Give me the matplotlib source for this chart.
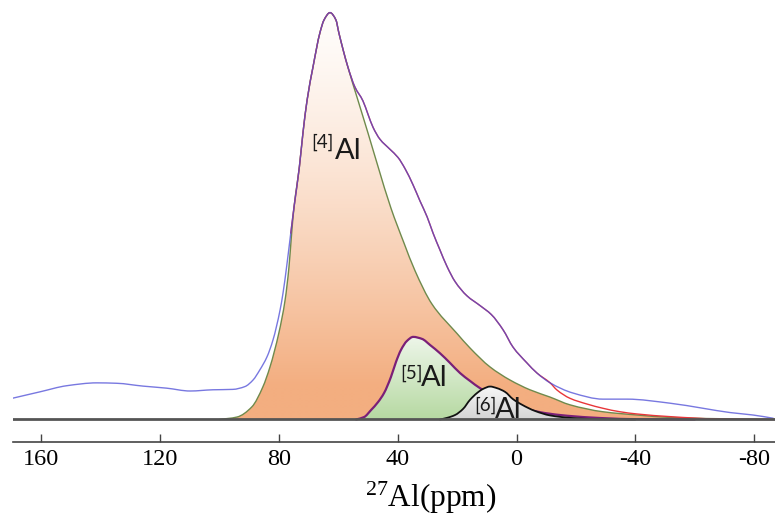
import numpy as np
import matplotlib
matplotlib.use("Agg")
import matplotlib.pyplot as plt
from matplotlib.colors import to_rgba
from matplotlib.path import Path
from matplotlib.patches import PathPatch

plt.rcParams['axes.unicode_minus'] = False
plt.rcParams['mathtext.fontset'] = 'custom'
plt.rcParams['mathtext.rm'] = 'Liberation Serif'
plt.rcParams['mathtext.it'] = 'Liberation Serif:italic'

# ---- data (chemical shift in ppm, intensity in % of max) ----
ppm_exp = [169.8, 160.4, 151.4, 141.3, 134.6, 125.7, 117.8, 109.9, 102.2, 95.5, 91.4, 88.7,
           86.4, 84.0, 82.0, 79.6, 78.6, 77.4, 76.0, 74.9, 73.1, 71.9, 70.5, 68.5, 66.2, 64.8,
           62.8, 60.8, 59.8, 56.8, 54.4, 51.7, 50.0, 48.3, 46.0, 42.6, 39.9, 37.5, 34.8, 32.5,
           30.1, 28.1, 25.8, 23.4, 20.7, 16.7, 12.3, 8.5, 4.5, 1.2, -3.5, -6.9, -11.3, -19.0,
           -29.1, -37.2, -51.7, -62.8, -71.9, -79.6, -86.4]
int_exp = [5.2, 6.8, 8.3, 9.0, 8.9, 8.2, 7.7, 7.0, 7.3, 7.4, 8.1, 9.7,
           12.2, 15.4, 19.5, 26.9, 31.1, 37.5, 45.8, 52.2, 62.1, 70.4, 78.5, 86.7, 95.0, 98.2,
           100, 98.2, 95.0, 86.7, 81.7, 78.3, 75.0, 71.8, 68.9, 66.4, 64.4, 61.6, 57.6, 53.7,
           49.8, 45.8, 41.7, 37.6, 33.9, 30.4, 28.0, 25.8, 22.0, 17.8, 13.9, 11.4, 9.0, 6.5,
           5.0, 5.0, 4.0, 2.75, 1.7, 1.1, 0.3]

ppm_fit = [76.0, 74.9, 73.1, 71.9, 70.5, 68.5,
           66.2, 64.8, 62.8, 60.8, 59.8, 56.8, 54.4, 51.7, 50.0, 48.3, 46.0, 42.6, 39.9, 37.5,
           34.8, 32.5, 30.1, 28.1, 25.8, 23.4, 20.7, 16.7, 12.3, 8.5, 4.5, 1.2, -3.5, -6.9,
           -11.3, -13.6, -18.0, -23.7, -29.1, -34.8, -40.6, -51.7, -68.5, -87]
int_fit = [45.8, 52.2, 62.1, 70.4, 78.5, 86.7,
           95.0, 98.2, 100, 98.2, 95.0, 86.7, 81.7, 78.3, 75.0, 71.8, 68.9, 66.4, 64.4, 61.6,
           57.6, 53.7, 49.8, 45.8, 41.7, 37.6, 33.9, 30.4, 28.0, 25.8, 22.0, 17.8, 13.9, 11.4,
           9.0, 7.25, 5.2, 3.8, 2.75, 1.9, 1.35, 0.7, 0.1, 0]

ppm_al4 = [100, 94.1, 89.1, 85.4, 83.0, 80.0, 77.9, 76.6, 75.7, 74.9, 73.1, 71.9, 70.5, 68.5,
           66.2, 64.8, 62.8, 60.8, 59.8, 56.8, 53.4, 50.0, 46.6, 42.3, 37.9, 34.2, 28.5, 20.0,
           15.7, 8.9, 2.2, -4.5, -11.3, -18.0, -29.1, -40.6, -51.7, -62.8, -87]
int_al4 = [0, 0.6, 3.1, 8.0, 12.9, 21.3, 29.4, 37.5, 45.8, 52.2, 62.1, 70.4, 78.5, 86.7,
           95.0, 98.2, 100, 98.2, 95.0, 86.7, 78.5, 70.4, 62.1, 52.0, 43.4, 36.6, 28.4, 21.1,
           17.6, 12.9, 9.7, 7.3, 5.5, 3.6, 1.9, 1.1, 0.5, 0.25, 0.03]

ppm_al5 = [54.0, 51.3, 49.0, 46.6, 44.6, 42.3, 40.6, 38.9, 36.9, 34.8, 31.8, 29.1, 25.8, 22.4,
           19.0, 15.7, 12.3, 8.2, 3.9, -1.2, -7.9, -14.6, -24.7, -38.2, -60]
int_al5 = [0, 0.6, 2.3, 4.3, 6.5, 10.4, 14.1, 17.1, 19.3, 20.3, 19.8, 18.3, 16.3, 13.9,
           11.4, 9.5, 7.7, 6.0, 4.5, 3.1, 1.8, 1.1, 0.5, 0.1, 0]

ppm_al6 = [25.8, 23.4, 20.7, 18.0, 15.7, 13.3, 11.3, 8.9, 6.6, 3.9, 1.2, -1.9, -6.2, -11.3,
           -18.0, -28.1, -40]
int_al6 = [0, 0.4, 1.1, 2.6, 4.8, 6.5, 7.5, 8.1, 7.7, 6.8, 5.0, 3.6, 2.1, 1.0,
           0.4, 0.05, 0]

xticks = [160, 120, 80, 40, 0, -40, -80]
xtick_labels = ['160', '120', '80', '40', '0', '-40', '-80']

# ---- figure ----
fig = plt.figure(figsize=(7.75, 5.15), dpi=100)
ax = fig.add_axes([12.7 / 775, 73.3 / 515, 1 - 12.7 / 775, 441.7 / 515])

XL = (169.6, -87.0)
YL = (-5.46, 103.1)


def smooth_verts(x, y):
    """Cubic Bezier path through the read points (monotone tangents, no overshoot)."""
    x = np.asarray(x, float)
    y = np.asarray(y, float)
    o = np.argsort(x)
    x, y = x[o], y[o]
    h = np.diff(x)
    d = np.diff(y) / h
    m = np.zeros_like(x)
    m[0], m[-1] = d[0], d[-1]
    for k in range(1, len(x) - 1):
        if d[k - 1] * d[k] <= 0:
            m[k] = 0.0
        else:
            w1 = 2 * h[k] + h[k - 1]
            w2 = h[k] + 2 * h[k - 1]
            m[k] = (w1 + w2) / (w1 / d[k - 1] + w2 / d[k])
    verts = [(x[0], y[0])]
    codes = [Path.MOVETO]
    for k in range(len(x) - 1):
        verts += [(x[k] + h[k] / 3, y[k] + m[k] * h[k] / 3),
                  (x[k + 1] - h[k] / 3, y[k + 1] - m[k + 1] * h[k] / 3),
                  (x[k + 1], y[k + 1])]
        codes += [Path.CURVE4] * 3
    return verts, codes


def curve(x, y, color, lw, z, alpha=1.0):
    v, c = smooth_verts(x, y)
    p = PathPatch(Path(v, c), facecolor='none', edgecolor=color, lw=lw,
                  alpha=alpha, zorder=z, capstyle='round', joinstyle='round')
    ax.add_patch(p)
    return p


def grad_fill(x, y, c_top, c_bot, ytop, yfull, z, gamma=1.0):
    v, c = smooth_verts(x, y)
    v = v + [(max(x), 0), (min(x), 0), (min(x), 0)]
    c = c + [Path.LINETO, Path.LINETO, Path.CLOSEPOLY]
    patch = PathPatch(Path(v, c), facecolor='none', edgecolor='none', zorder=z)
    ax.add_patch(patch)
    n = 300
    ivals = np.linspace(ytop, 0, n)
    frac = np.clip((ytop - ivals) / (ytop - yfull), 0, 1) ** gamma
    frac = frac[:, None]
    ct = np.array(to_rgba(c_top))
    cb = np.array(to_rgba(c_bot))
    arr = (ct * (1 - frac) + cb * frac)[:, None, :]
    im = ax.imshow(arr, extent=[max(x), min(x), 0, ytop], aspect='auto',
                   origin='upper', zorder=z, interpolation='bilinear')
    im.set_clip_path(patch)
    return im


grad_fill(ppm_al4, int_al4, '#fffdfb', '#f3ae80', 100, 8, 1, gamma=1.35)
curve(ppm_al4, int_al4, '#6f8a4c', 1.0, 2)

grad_fill(ppm_al5, int_al5, '#eef6ea', '#b6d9a2', 20.3, 0, 3)
curve(ppm_al5, int_al5, '#7a1f78', 1.6, 4)

grad_fill(ppm_al6, int_al6, '#f7f7f7', '#d5d5d5', 8.1, 0, 5)
curve(ppm_al6, int_al6, '#111111', 1.3, 6)

curve(ppm_fit, int_fit, '#e8363a', 1.0, 7)
curve(ppm_exp, int_exp, '#4b4bd6', 1.0, 8, alpha=0.75)

ax.axhline(0, color='#555555', lw=2.0, zorder=9)

txt_kw = dict(family='Lato', color='#1a1a1a', zorder=10)
ax.text(69.0, 70.2, '[4]', fontsize=13.5, ha='left', va='top', **txt_kw)
ax.text(61.1, 64.0, 'Al', fontsize=21, ha='left', va='baseline', **txt_kw)
ax.text(39.2, 13.5, '[5]', fontsize=13.5, ha='left', va='top', **txt_kw)
ax.text(32.3, 8.2, 'Al', fontsize=21, ha='left', va='baseline', **txt_kw)
ax.text(14.3, 5.6, '[6]', fontsize=13.5, ha='left', va='top', **txt_kw)
ax.text(7.2, 0.3, 'Al', fontsize=21, ha='left', va='baseline', **txt_kw)

ax.set_xlim(*XL)
ax.set_ylim(*YL)
for s in ['top', 'left', 'right']:
    ax.spines[s].set_visible(False)
ax.spines['bottom'].set_color('#444444')
ax.spines['bottom'].set_linewidth(1.2)
ax.set_yticks([])
ax.set_xticks(xticks)
ax.set_xticklabels(xtick_labels, family='Liberation Serif', fontsize=17.5)
ax.tick_params(axis='x', direction='in', length=6, width=1.0, color='#444444', pad=5)

fig.text(431 / 775, 8 / 515, r'$^{27}$Al(ppm)', ha='center', va='baseline',
         family='Liberation Serif', fontsize=22.5)

fig.savefig('out.png', dpi=100)
